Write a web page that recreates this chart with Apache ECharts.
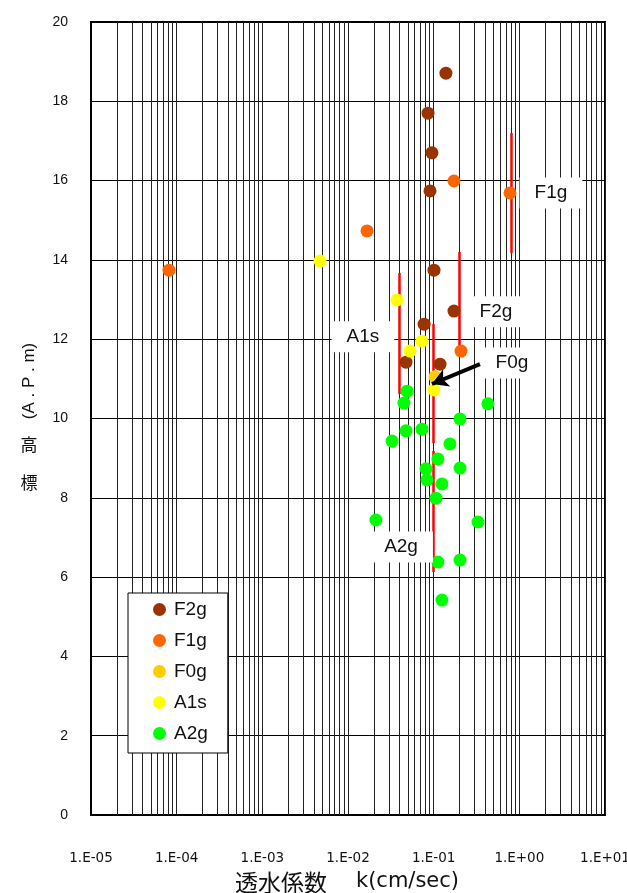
<!DOCTYPE html>
<html><head><meta charset="utf-8">
<script src="https://cdn.jsdelivr.net/npm/echarts@6/dist/echarts.min.js"></script>
<style>html,body{margin:0;padding:0;background:#fff}#c{width:627px;height:893px}</style>
</head><body><div id="c"></div>
<script>
// ---- data ----
const seriesNames = ['F2g', 'F1g', 'F0g', 'A1s', 'A2g'];
const seriesColors = ['#993300', '#FF6600', '#FFCC00', '#FFFF00', '#00FF00'];

const f2gK = [0.139, 0.0859, 0.0955, 0.0906, 0.1009, 0.0774, 0.1726, 0.0475, 0.1186];
const f2gY = [18.71, 17.70, 16.70, 15.74, 13.74, 12.38, 12.71, 11.42, 11.37];

const f1gK = [8.13e-5, 0.01667, 0.1726, 0.778, 0.2086];
const f1gY = [13.74, 14.73, 15.99, 15.69, 11.70];

const f0gK = [0.1035];
const f0gY = [11.05];

const a1sK = [0.00471, 0.0373, 0.0731, 0.0530, 0.1009];
const a1sY = [13.97, 12.99, 11.95, 11.70, 10.72];

const a2gK = [0.0489, 0.0450, 0.430, 0.203, 0.0475, 0.0731, 0.0327, 0.155, 0.112, 0.0813,
              0.203, 0.0835, 0.125, 0.1063, 0.0212, 0.329, 0.112, 0.203, 0.125];
const a2gY = [10.69, 10.39, 10.37, 9.99, 9.69, 9.73, 9.43, 9.36, 8.98, 8.73,
              8.75, 8.45, 8.35, 7.99, 7.44, 7.39, 6.38, 6.43, 5.42];

// vertical range bars (red)
const barK = [0.0394, 0.0982, 0.0982, 0.1977, 0.80];
const barLow = [10.62, 9.38, 6.13, 11.80, 14.17];
const barHigh = [13.67, 12.38, 9.18, 14.20, 17.20];

// annotation labels
const noteText = ['F1g', 'F2g', 'A1s', 'F0g', 'A2g'];
const noteK = [2.34, 0.533, 0.01496, 0.82, 0.0416];
const noteY = [15.69, 12.69, 12.06, 11.40, 6.76];

// arrow for F0g
const arrowFrom = [0.347, 11.37];
const arrowTo = [0.0955, 10.87];

// axes
const xMin = 1e-5, xMax = 10;
const yMin = 0, yMax = 20, yStep = 2;
const xTickLabels = {'-5':'1.E-05','-4':'1.E-04','-3':'1.E-03','-2':'1.E-02','-1':'1.E-01','0':'1.E+00','1':'1.E+01'};

// ---- build ----
const pts = [[f2gK, f2gY], [f1gK, f1gY], [f0gK, f0gY], [a1sK, a1sY], [a2gK, a2gY]];

const minorLines = [];
for (let e = -5; e < 1; e++) {
  for (let m = 2; m <= 9; m++) {
    const k = m * Math.pow(10, e);
    minorLines.push([{ coord: [k, yMin] }, { coord: [k, yMax] }]);
  }
}

const gridLineColor = '#222';

const series = [];
series.push({
  name: 'grid', type: 'scatter', data: [], z: 1, silent: true,
  markLine: {
    silent: true, symbol: 'none', animation: false, z: 1,
    label: { show: false },
    lineStyle: { color: gridLineColor, width: 1, type: 'solid' },
    data: minorLines
  }
});
series.push({
  name: 'bars', type: 'scatter', data: [], z: 2, silent: true,
  markLine: {
    silent: true, symbol: 'none', animation: false, z: 2,
    label: { show: false },
    lineStyle: { color: '#FF0000', width: 2.5, type: 'solid' },
    data: barK.map((k, i) => [{ coord: [k, barLow[i]] }, { coord: [k, barHigh[i]] }])
  }
});
pts.forEach((p, i) => {
  series.push({
    name: seriesNames[i], type: 'scatter', z: 3 + i,
    symbol: 'circle', symbolSize: 13,
    itemStyle: { color: seriesColors[i], opacity: 1 },
    data: p[0].map((k, j) => [k, p[1][j]])
  });
});
series.push({
  name: 'notes', type: 'scatter', z: 10, silent: true,
  symbolSize: 1, itemStyle: { color: 'rgba(0,0,0,0)', opacity: 1 },
  data: noteK.map((k, i) => ({ value: [k, noteY[i]], name: noteText[i] })),
  label: {
    show: true, position: 'inside', formatter: p => p.name, opacity: 1,
    fontFamily: 'Liberation Sans', fontSize: 19, color: '#111',
    backgroundColor: '#fff', padding: [6, 15, 6, 15]
  }
});
series.push({
  name: 'arrow', type: 'scatter', data: [], z: 11, silent: true,
  markLine: {
    silent: true, symbol: ['none', 'arrow'], symbolSize: [14, 16], animation: false, z: 12,
    label: { show: false },
    lineStyle: { color: '#000', width: 4, type: 'solid' },
    data: [[{ coord: arrowFrom }, { coord: arrowTo }]]
  }
});

const chart = echarts.init(document.getElementById('c'), null, { renderer: 'canvas' });
chart.setOption({
  animation: false,
  backgroundColor: '#fff',
  grid: { left: 91, right: 22, top: 22, bottom: 78, outerBoundsMode: 'none', containLabel: false,
          show: true, borderColor: '#000', borderWidth: 2, backgroundColor: 'transparent' },
  xAxis: {
    type: 'log', logBase: 10, min: xMin, max: xMax, splitNumber: 6,
    axisLine: { show: true, lineStyle: { color: '#000', width: 2 } },
    axisTick: { show: false },
    splitLine: { show: true, lineStyle: { color: gridLineColor, width: 1 } },
    axisLabel: {
      margin: 36, fontFamily: 'DejaVu Sans', fontSize: 13.5, color: '#111',
      formatter: v => xTickLabels[String(Math.round(Math.log10(v)))] || ''
    }
  },
  yAxis: {
    type: 'value', min: yMin, max: yMax, interval: yStep,
    axisLine: { show: true, lineStyle: { color: '#000', width: 2 } },
    axisTick: { show: false },
    splitLine: { show: true, lineStyle: { color: '#000', width: 1 } },
    axisLabel: { margin: 23, fontFamily: 'Liberation Sans', fontSize: 14, color: '#111' }
  },
  legend: {
    data: seriesNames, orient: 'vertical', left: 128, top: 593, z: 30,
    backgroundColor: '#fff', borderColor: '#000', borderWidth: 1,
    padding: [7, 20, 10, 25], itemGap: 12, itemWidth: 13, itemHeight: 13,
    icon: 'circle',
    textStyle: { fontFamily: 'Liberation Sans', fontSize: 19, color: '#111', padding: [0, 0, 0, 3] }
  },
  graphic: [
    { type: 'text', x: 235, y: 882, style: { text: '透水係数', fontFamily: 'Noto Sans CJK JP', fontSize: 23, fill: '#111', align: 'left', verticalAlign: 'middle' }, z: 20 },
    { type: 'text', x: 356, y: 882, style: { text: 'k(cm/sec)', fontFamily: 'DejaVu Sans', fontSize: 21, fill: '#111', align: 'left', verticalAlign: 'middle' }, z: 20 },
    { type: 'text', x: 29, y: 483, style: { text: '標', fontFamily: 'Noto Sans CJK JP', fontSize: 17, fill: '#111', align: 'center', verticalAlign: 'middle' }, z: 20 },
    { type: 'text', x: 29, y: 445, style: { text: '高', fontFamily: 'Noto Sans CJK JP', fontSize: 17, fill: '#111', align: 'center', verticalAlign: 'middle' }, z: 20 },
    { type: 'text', x: 29, y: 381, rotation: Math.PI / 2, style: { text: '(A . P . m)', fontFamily: 'Liberation Sans', fontSize: 17, fill: '#111', align: 'center', verticalAlign: 'middle' }, z: 20 }
  ],
  series: series
});
</script>
</body></html>
